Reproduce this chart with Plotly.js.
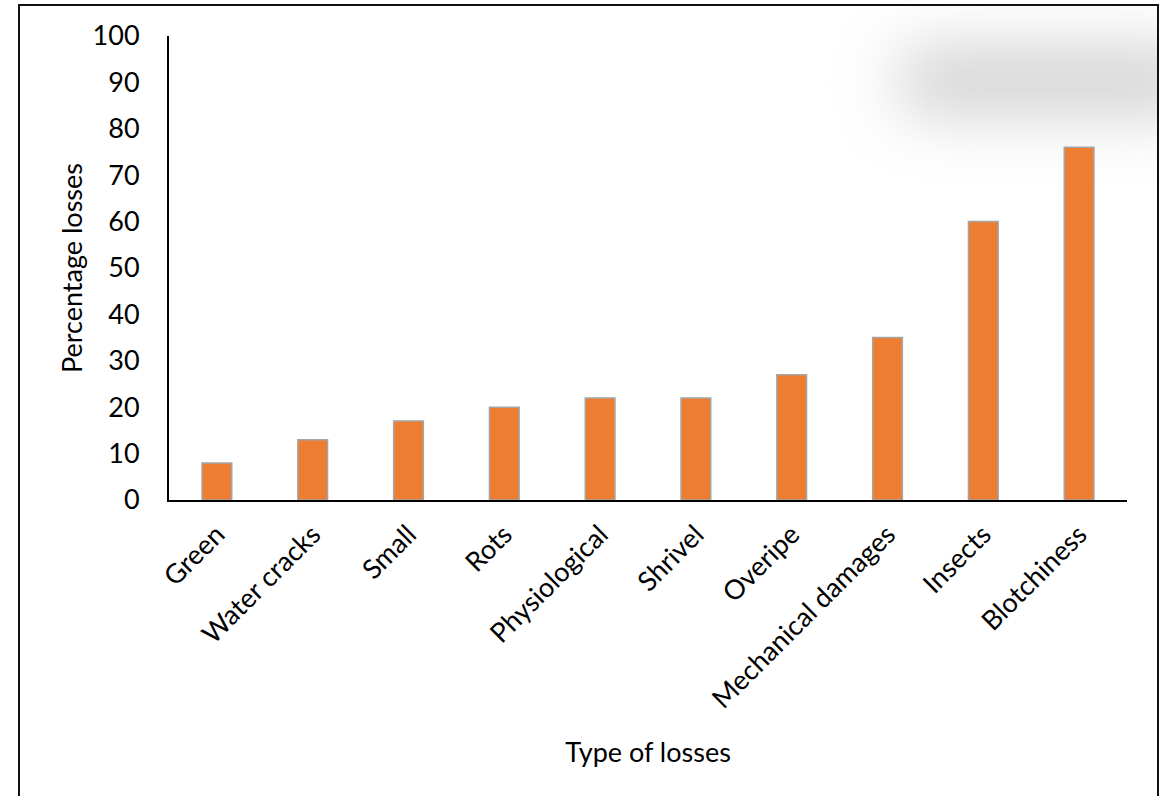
<!DOCTYPE html>
<html>
<head>
<meta charset="utf-8">
<script src="https://cdn.plot.ly/plotly-3.0.1.min.js"></script>
<style>
  html, body { margin: 0; padding: 0; background: #ffffff; }
  #wrap { position: relative; width: 1163px; height: 796px; overflow: hidden; }
  #frame {
    position: absolute; left: 18px; top: 4px; width: 1137px; height: 800px;
    border: 2px solid #111; border-bottom: none; overflow: hidden; box-sizing: content-box;
  }
  #haze {
    position: absolute; left: 875px; top: 42px; width: 310px; height: 66px;
    background: #d0d0d0; border-radius: 40px; filter: blur(32px);
  }
  #chart { position: absolute; left: 0; top: 0; width: 1163px; height: 796px; }
</style>
</head>
<body>
<div id="wrap">
  <div id="frame"><div id="haze"></div></div>
  <div id="chart"></div>
</div>
<script>
// Post-harvest loss categories and their percentage losses
const categories = ['Green', 'Water cracks', 'Small', 'Rots', 'Physiological',
                    'Shrivel', 'Overipe', 'Mechanical damages', 'Insects', 'Blotchiness'];
const lossValues = [8, 13, 17, 20, 22, 22, 27, 35, 60, 76];
const yTicks = [0, 10, 20, 30, 40, 50, 60, 70, 80, 90, 100];

const font = { family: 'Lato, "Open Sans", sans-serif', size: 27, color: '#000000' };

const trace = {
  type: 'bar',
  x: categories,
  y: lossValues,
  marker: { color: '#ED7D31', line: { color: '#A5A5A5', width: 1.5 } },
  hoverinfo: 'x+y'
};

const layout = {
  width: 1163,
  height: 796,
  margin: { l: 169, r: 36, t: 36, b: 296 },
  paper_bgcolor: 'rgba(0,0,0,0)',
  plot_bgcolor: 'rgba(0,0,0,0)',
  font: font,
  showlegend: false,
  bargap: 0.69,
  xaxis: {
    type: 'category',
    tickangle: -45,
    ticks: '',
    showgrid: false,
    zeroline: false,
    showline: true,
    linecolor: '#000000',
    linewidth: 2,
    ticklabelstandoff: 6,
    tickfont: font,
    title: { text: 'Type of losses', font: font, standoff: 30 }
  },
  yaxis: {
    range: [0, 100],
    tickvals: yTicks,
    ticktext: yTicks.map(String),
    ticks: '',
    showgrid: false,
    zeroline: false,
    showline: true,
    linecolor: '#000000',
    linewidth: 2,
    ticklabelstandoff: 22,
    tickfont: font,
    title: { text: 'Percentage losses', font: font, standoff: 2 }
  }
};

Plotly.newPlot('chart', [trace], layout, { displayModeBar: false, staticPlot: true });
</script>
</body>
</html>
